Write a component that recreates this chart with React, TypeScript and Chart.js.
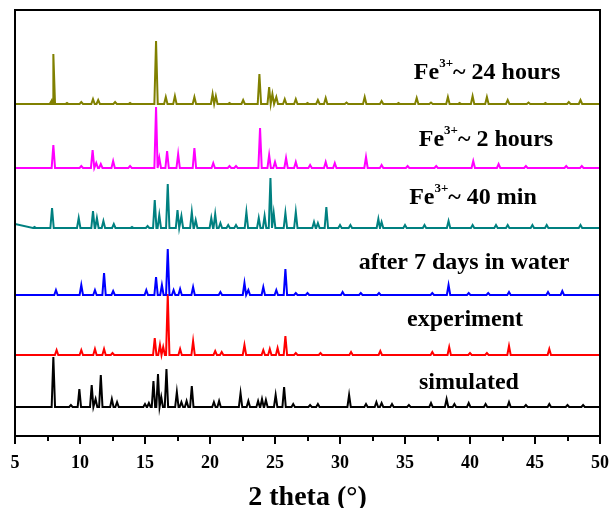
import React, { useEffect, useRef } from "react";
import { Chart, registerables } from "chart.js";

Chart.register(...registerables);

// ---- axis ----
const X_MIN = 5;
const X_MAX = 50;
const X_STEP = 5;
const X_TITLE = "2 theta (°)";

// ---- stacked trace offsets (vertical shift of each pattern) ----
const offsetSimulated = 29;
const offsetExperiment = 81;
const offsetWater = 141;
const offset40min = 208;
const offset2h = 268;
const offset24h = 332;

// ---- peak positions (2θ) and heights for each pattern ----
const peaks24hX = [7.8, 7.95, 9.0, 10.1, 11.0, 11.4, 12.7, 13.85, 15.85, 16.6, 17.3, 18.8, 20.2, 20.45, 21.5, 22.55, 23.8, 24.55, 24.8, 25.1, 25.75, 26.6, 27.5, 28.3, 28.9, 30.5, 31.9, 33.2, 34.5, 35.9, 37.0, 38.3, 39.2, 40.2, 41.3, 42.9, 44.5, 45.8, 47.6, 48.5];
const peaks24hH = [3, 50, 1, 2, 5, 4, 2, 1, 63, 7, 8, 7, 10, 8, 1, 4, 30, 17, 10, 7, 5, 5, 1, 4, 6, 1.5, 7, 3, 1, 6, 1.5, 7, 1, 8, 7, 4, 1.5, 1, 2, 4];

const peaks2hX = [7.95, 10.1, 10.97, 11.25, 11.6, 12.55, 13.85, 15.85, 16.1, 16.7, 17.55, 18.8, 20.25, 21.5, 22.0, 23.85, 24.55, 25.0, 25.85, 26.6, 27.7, 28.9, 29.6, 32.0, 33.2, 35.2, 37.4, 40.25, 42.2, 44.3, 47.4, 48.6];
const peaks2hH = [23, 2, 18, 5, 4, 7, 2, 61, 10, 17, 14, 20, 5, 2, 2, 40, 13, 6, 10, 6, 3, 6, 5, 11, 3, 2, 2, 7, 4, 2, 2, 2];

const peaks40mX = [6.5, 7.85, 9.9, 11.0, 11.3, 11.8, 12.6, 14.0, 15.2, 15.75, 16.1, 16.75, 17.5, 17.8, 18.6, 18.9, 20.1, 20.4, 20.8, 21.4, 22.0, 22.8, 23.75, 24.2, 24.65, 24.9, 25.8, 26.6, 28.0, 28.3, 28.95, 30.0, 30.8, 32.95, 33.2, 35.0, 36.5, 38.35, 40.2, 42.0, 42.9, 44.8, 45.9, 48.5];
const peaks40mH = [1, 20, 10, 17, 10, 7, 4, 1, 2, 28, 13, 44, 18, 12, 16, 8, 10, 14, 5, 3, 3, 16, 10, 12, 50, 15, 15, 16, 6, 5, 21, 3, 3, 9, 6, 3, 3, 7, 3, 3, 3, 3, 3, 3];
const start40mH = 4;

const peaksWaterX = [8.15, 10.1, 11.15, 11.85, 12.55, 15.1, 15.85, 16.3, 16.75, 17.2, 17.7, 18.7, 20.8, 22.65, 22.95, 24.1, 25.1, 25.8, 26.6, 27.5, 30.2, 31.6, 33.0, 37.1, 38.35, 39.9, 41.4, 43.0, 46.0, 47.1];
const peaksWaterH = [5, 10, 5, 22, 4, 5, 18, 10, 46, 5, 6, 8, 3, 12, 5, 8, 5, 26, 2, 2, 3, 2, 2, 2, 10, 2, 2, 3, 3, 4];

const peaksExpX = [8.2, 10.1, 11.15, 11.85, 12.5, 15.75, 16.15, 16.4, 16.75, 17.7, 18.7, 20.4, 20.9, 22.65, 24.1, 24.6, 25.2, 25.8, 26.6, 28.5, 30.85, 33.1, 37.1, 38.4, 40.0, 41.3, 43.0, 46.1];
const peaksExpH = [5, 5, 6, 6, 2, 17, 10, 8, 61, 6, 14, 4, 3, 10, 5, 6, 7, 19, 2, 2, 3, 4, 3, 8, 2, 2, 9, 6];

const peaksSimX = [7.95, 9.3, 9.95, 10.9, 11.2, 11.6, 12.45, 12.85, 15.0, 15.3, 15.65, 16.0, 16.25, 16.65, 17.45, 17.8, 18.2, 18.6, 20.3, 20.7, 22.35, 22.95, 23.7, 24.0, 24.3, 25.05, 25.7, 26.4, 27.7, 28.3, 30.7, 32.0, 32.8, 33.2, 34.0, 35.3, 37.0, 38.2, 38.8, 39.9, 41.2, 43.0, 44.3, 46.1, 47.5, 48.7];
const peaksSimH = [50, 2, 18, 22, 8, 32, 8, 5, 3, 4, 26, 33, 10, 38, 15, 5, 6, 21, 5, 6, 14, 6, 6, 8, 7, 12, 20, 3, 2, 3, 12, 3, 5, 4, 3, 2, 4, 8, 3, 4, 3, 5, 2, 3, 2, 2];

// ---- labels ----
const labelTexts = [
  { main: "Fe", sup: "3+", rest: "~ 24 hours" },
  { main: "Fe", sup: "3+", rest: "~ 2 hours" },
  { main: "Fe", sup: "3+", rest: "~ 40 min" },
  { main: "after 7 days in water", sup: "", rest: "" },
  { main: "experiment", sup: "", rest: "" },
  { main: "simulated", sup: "", rest: "" },
];
// anchor (horizontal centre, vertical centre) in data units
const labelAnchorX = [41.31, 41.23, 40.23, 39.54, 39.62, 39.92];
const labelAnchorY = [363, 296, 238, 173, 116, 53];

const colors = ["#808000", "#ff00ff", "#008080", "#0000ff", "#ff0000", "#000000"];

const FONT = '"Liberation Serif", "Times New Roman", serif';
const PEAK_HALF_WIDTH = 0.13;

function buildTrace(base: number, xs: number[], hs: number[], startH = 0) {
  const pts: { x: number; y: number }[] = [{ x: X_MIN, y: base + startH }];
  xs.forEach((p, i) => {
    pts.push({ x: p - PEAK_HALF_WIDTH, y: base });
    pts.push({ x: p, y: base + hs[i] });
    pts.push({ x: p + PEAK_HALF_WIDTH, y: base });
  });
  pts.push({ x: X_MAX, y: base });
  pts.sort((a, b) => a.x - b.x);
  return pts;
}

const framePlugin = {
  id: "frameTicks",
  afterDraw(chart: any) {
    const { ctx, chartArea } = chart;
    const xs = chart.scales.x;
    ctx.save();
    ctx.strokeStyle = "#000";
    ctx.lineWidth = 2;
    ctx.strokeRect(chartArea.left, chartArea.top, chartArea.right - chartArea.left, chartArea.bottom - chartArea.top);
    for (let v = X_MIN; v <= X_MAX + 1e-9; v += X_STEP / 2) {
      const major = Math.abs((v - X_MIN) % X_STEP) < 1e-9;
      const px = Math.round(xs.getPixelForValue(v));
      ctx.beginPath();
      ctx.moveTo(px, chartArea.bottom);
      ctx.lineTo(px, chartArea.bottom + (major ? 8 : 5));
      ctx.stroke();
    }
    // labels
    const ys = chart.scales.y;
    ctx.fillStyle = "#000";
    ctx.textBaseline = "middle";
    ctx.textAlign = "left";
    const big = `bold 24px ${FONT}`;
    const small = `bold 13px ${FONT}`;
    labelTexts.forEach((t, i) => {
      ctx.font = big;
      const wMain = ctx.measureText(t.main).width;
      const wRest = t.rest ? ctx.measureText(t.rest).width : 0;
      ctx.font = small;
      const wSup = t.sup ? ctx.measureText(t.sup).width : 0;
      const total = wMain + wSup + wRest;
      let x = xs.getPixelForValue(labelAnchorX[i]) - total / 2;
      const y = ys.getPixelForValue(labelAnchorY[i]);
      ctx.font = big;
      ctx.fillText(t.main, x, y);
      x += wMain;
      if (t.sup) {
        ctx.font = small;
        ctx.fillText(t.sup, x, y - 9);
        x += wSup;
        ctx.font = big;
        ctx.fillText(t.rest, x, y);
      }
    });
    ctx.restore();
  },
};

export default function App() {
  const ref = useRef<HTMLCanvasElement>(null);
  useEffect(() => {
    const traces = [
      buildTrace(offset24h, peaks24hX, peaks24hH),
      buildTrace(offset2h, peaks2hX, peaks2hH),
      buildTrace(offset40min, peaks40mX, peaks40mH, start40mH),
      buildTrace(offsetWater, peaksWaterX, peaksWaterH),
      buildTrace(offsetExperiment, peaksExpX, peaksExpH),
      buildTrace(offsetSimulated, peaksSimX, peaksSimH),
    ];
    const chart = new Chart(ref.current as HTMLCanvasElement, {
      type: "line",
      data: {
        datasets: traces.map((d, i) => ({
          data: d,
          borderColor: colors[i],
          borderWidth: 2,
          pointRadius: 0,
          tension: 0,
          fill: false,
        })),
      },
      options: {
        responsive: false,
        animation: false,
        layout: { padding: { left: 15, right: 14, top: 10, bottom: 0 } },
        plugins: { legend: { display: false }, tooltip: { enabled: false } },
        scales: {
          x: {
            type: "linear",
            min: X_MIN,
            max: X_MAX,
            ticks: {
              stepSize: X_STEP,
              color: "#000",
              padding: 17,
              maxRotation: 0,
              autoSkip: false,
              font: { family: FONT, size: 18, weight: "bold" },
            },
            grid: { display: false, drawTicks: false },
            border: { display: false },
            title: {
              display: true,
              text: X_TITLE,
              color: "#000",
              padding: { top: 0, bottom: -4 },
              font: { family: FONT, size: 28, weight: "bold", lineHeight: 1 },
            },
            afterFit: (s: any) => {
              s.height = 72;
              s.paddingLeft = 0;
              s.paddingRight = 0;
            },
          },
          y: { type: "linear", min: 0, max: 426, display: false },
        },
      } as any,
      plugins: [framePlugin],
    });
    return () => chart.destroy();
  }, []);
  return (
    <div style={{ position: "absolute", left: 0, top: 0, width: 614, height: 508, background: "#fff" }}>
      <canvas ref={ref} width={614} height={508} style={{ display: "block" }} />
    </div>
  );
}
